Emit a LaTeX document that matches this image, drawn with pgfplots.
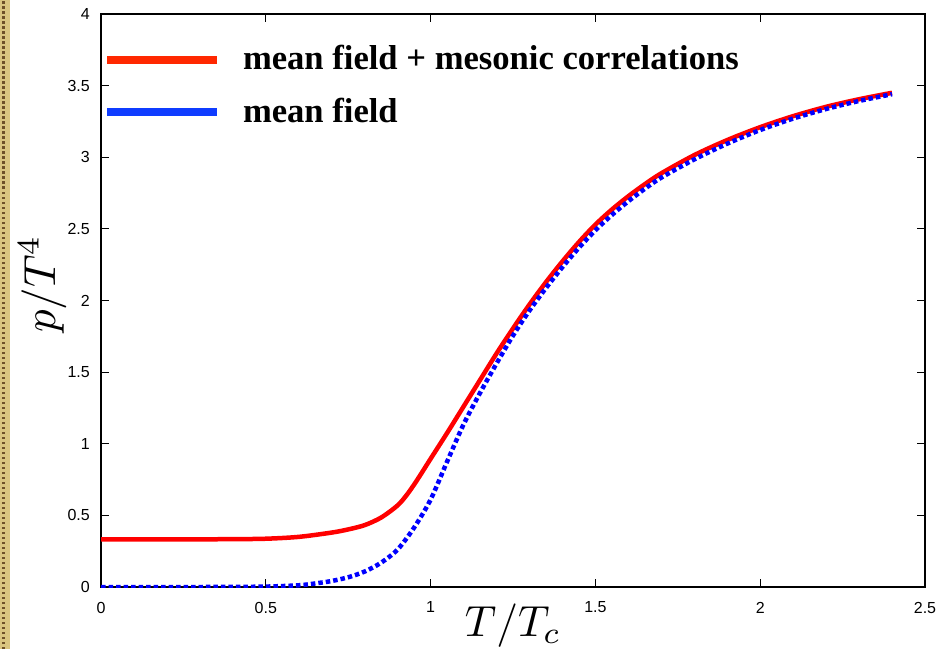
\documentclass[border=0pt]{standalone}
\usepackage{graphicx}
\usepackage{pgfplots}
\pgfplotsset{compat=1.18}
\usepackage{fontspec}
\setmainfont{Liberation Serif}
\newfontfamily\tickfont{Liberation Sans}
\definecolor{legred}{RGB}{255,40,0}
\definecolor{legblue}{RGB}{15,60,255}
\definecolor{beige}{RGB}{218,197,128}
\definecolor{brownz}{RGB}{110,80,40}
\begin{document}
\begin{tikzpicture}[x=1pt,y=1pt]
\useasboundingbox (0,0) rectangle (941,649);
\fill[beige] (0,0) rectangle (10,649);
\draw[brownz, line width=3pt, dash pattern=on 2.5pt off 2.5pt] (3,0) -- (3,649);
\begin{axis}[
  scale only axis,
  width=824pt, height=573pt,
  at={(101pt,62pt)}, anchor=south west,
  xmin=0, xmax=2.5, ymin=0, ymax=4,
  xtick={0,0.5,1,1.5,2,2.5},
  ytick={0,0.5,1,1.5,2,2.5,3,3.5,4},
  tick align=inside,
  major tick length=8pt,
  tick style={line width=1.2pt, black},
  axis line style={line width=1.8pt},
  /pgf/number format/assume math mode=true,
  tick label style={font=\tickfont\fontsize{16}{19}\selectfont, inner sep=0pt},
  xticklabel style={yshift=-14.7pt},
  yticklabel style={xshift=-11pt},
  every axis x label/.style={at={(axis description cs:0.5,-0.0870)}, anchor=base},
  every axis y label/.style={at={(axis description cs:-0.0558,0.529)}, rotate=90, anchor=base},
  xlabel={\fontsize{10}{12}\selectfont\scalebox{4.35}{$T/T_c$}},
  ylabel={\fontsize{10}{12}\selectfont\scalebox{4.5}{$p/T^4$}},
  legend cell align=left,
  legend style={at={(axis description cs:0,1)}, anchor=north west, xshift=2pt, yshift=-32pt,
    draw=none, fill=none, inner sep=0pt, outer sep=0pt,
    row sep=28.4pt, column sep=22pt,
    font=\bfseries\fontsize{34.6}{40}\selectfont,
    nodes={inner sep=0pt, text height=24pt, text depth=0pt}},
]
\addplot[red, line width=4.5pt, smooth,
  legend image code/.code={\draw[legred, solid, line width=8pt] (0pt,-2pt) -- (110pt,-2pt);}]
  coordinates {
  (0,0.333) (0.1,0.333) (0.2,0.333) (0.3,0.333) (0.4,0.334) (0.5,0.337)
  (0.6,0.350) (0.7,0.380) (0.75,0.402) (0.8,0.432) (0.85,0.485) (0.9,0.570)
  (0.93,0.650) (0.96,0.750) (1.0,0.895) (1.05,1.075) (1.1,1.260) (1.15,1.445)
  (1.2,1.630) (1.25,1.805) (1.3,1.972) (1.35,2.128) (1.4,2.273) (1.45,2.408)
  (1.5,2.530) (1.55,2.635) (1.6,2.728) (1.65,2.812) (1.7,2.888) (1.8,3.015)
  (1.9,3.120) (2.0,3.210) (2.1,3.287) (2.2,3.352) (2.3,3.405) (2.4,3.450)
  };
\addlegendentry{mean field + mesonic correlations}
\addplot[blue, line width=4.5pt, dash pattern=on 4.5pt off 3pt, smooth,
  legend image code/.code={\draw[legblue, solid, line width=8pt] (0pt,-2pt) -- (110pt,-2pt);}]
  coordinates {
  (0,0.0) (0.1,0.0) (0.2,0.0) (0.3,0.0) (0.4,0.001) (0.5,0.003)
  (0.6,0.012) (0.66,0.028) (0.7,0.042) (0.75,0.068) (0.8,0.108) (0.85,0.170)
  (0.9,0.262) (0.95,0.415) (1.0,0.610) (1.05,0.875) (1.1,1.135) (1.15,1.355)
  (1.2,1.560) (1.25,1.755) (1.3,1.930) (1.35,2.087) (1.4,2.233) (1.45,2.368)
  (1.5,2.490) (1.55,2.597) (1.6,2.693) (1.65,2.780) (1.7,2.858) (1.8,2.985)
  (1.9,3.095) (2.0,3.190) (2.1,3.270) (2.2,3.337) (2.3,3.393) (2.4,3.440)
  };
\addlegendentry{mean field}
\end{axis}
\end{tikzpicture}
\end{document}
